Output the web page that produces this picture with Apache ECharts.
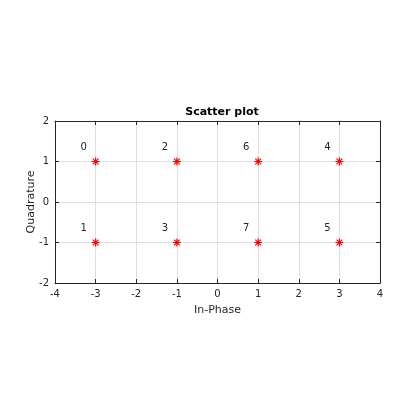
<!DOCTYPE html>
<html><head><meta charset="utf-8">
<script src="https://cdn.jsdelivr.net/npm/echarts@6/dist/echarts.min.js"></script>
<style>html,body{margin:0;padding:0;background:#fff}#c{width:420px;height:420px}</style>
</head><body><div id="c"></div>
<script>
const inPhase = [-3, -3, -1, -1, 3, 3, 1, 1];
const quadrature = [1, -1, 1, -1, 1, -1, 1, -1];
const pointLabels = ['0', '1', '2', '3', '4', '5', '6', '7'];
const xTicks = [-4, -3, -2, -1, 0, 1, 2, 3, 4];
const yTicks = [-2, -1, 0, 1, 2];

const data = inPhase.map((x, i) => ({ value: [x, quadrature[i]], name: pointLabels[i] }));
const star = 'path://M0,-5L0,5M-5,0L5,0M-3.6,-3.6L3.6,3.6M-3.6,3.6L3.6,-3.6';
const font = 'DejaVu Sans';
const axisCommon = {
  axisLine: { show: true, onZero: false, lineStyle: { color: '#262626', width: 1 } },
  axisTick: { show: true, inside: true, length: 4, lineStyle: { color: '#262626' } },
};
const chart = echarts.init(document.getElementById('c'));
chart.setOption({
  animation: false,
  backgroundColor: '#fff',
  title: { text: 'Scatter plot', left: 217, top: 102, textAlign: 'center',
    textStyle: { fontFamily: font, fontSize: 11, fontWeight: 'bold', color: '#000' } },
  grid: { left: 55, right: 40, top: 121, bottom: 137, containLabel: false },
  xAxis: [
    Object.assign({ type: 'value', min: xTicks[0], max: xTicks[xTicks.length - 1], interval: 1,
      name: 'In-Phase', nameLocation: 'middle', nameGap: 22, nameMoveOverlap: false,
      nameTextStyle: { fontFamily: font, fontSize: 11, color: '#262626' },
      axisLabel: { fontFamily: font, fontSize: 10, color: '#262626', margin: 6 },
      splitLine: { show: true, lineStyle: { color: '#dfdfdf', width: 1 } } }, axisCommon),
    Object.assign({ type: 'value', position: 'top', min: xTicks[0], max: xTicks[xTicks.length - 1], interval: 1,
      axisLabel: { show: false }, splitLine: { show: false } }, axisCommon)
  ],
  yAxis: [
    Object.assign({ type: 'value', min: yTicks[0], max: yTicks[yTicks.length - 1], interval: 1,
      name: 'Quadrature', nameLocation: 'middle', nameGap: 18, nameRotate: 90, nameMoveOverlap: false,
      nameTextStyle: { fontFamily: font, fontSize: 11, color: '#262626' },
      axisLabel: { fontFamily: font, fontSize: 10, color: '#262626', margin: 6 },
      splitLine: { show: true, lineStyle: { color: '#dfdfdf', width: 1 } } }, axisCommon),
    Object.assign({ type: 'value', position: 'right', min: yTicks[0], max: yTicks[yTicks.length - 1], interval: 1,
      axisLabel: { show: false }, splitLine: { show: false } }, axisCommon)
  ],
  series: [{
    type: 'scatter', xAxisIndex: 0, yAxisIndex: 0,
    data: data,
    symbol: star, symbolSize: 8,
    itemStyle: { color: 'rgba(0,0,0,0)', borderColor: '#ff0000', borderWidth: 1.2, opacity: 1 },
    label: { show: true, formatter: p => p.name, position: 'inside', offset: [-12, -14],
      fontFamily: font, fontSize: 10, color: '#262626' }
  }]
});
</script></body></html>
